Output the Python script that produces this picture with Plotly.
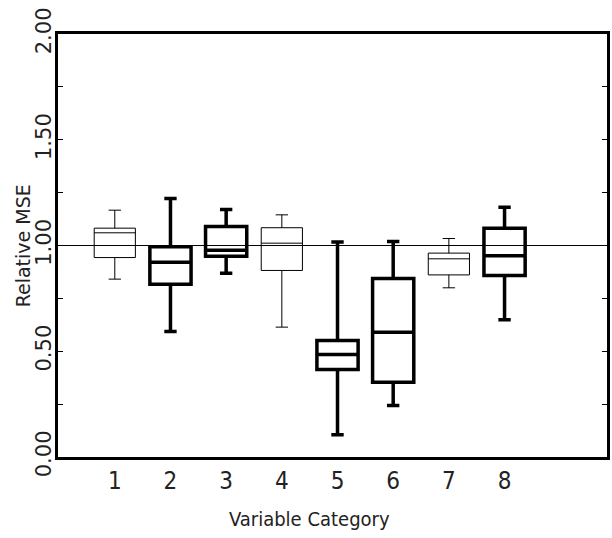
import plotly.graph_objects as go

categories = [1, 2, 3, 4, 5, 6, 7, 8]
lower = [0.841, 0.593, 0.869, 0.614, 0.105, 0.243, 0.800, 0.649]
q1 = [0.943, 0.817, 0.949, 0.882, 0.414, 0.354, 0.861, 0.858]
median = [1.060, 0.921, 0.978, 1.011, 0.485, 0.590, 0.937, 0.951]
q3 = [1.082, 0.994, 1.090, 1.084, 0.551, 0.844, 0.964, 1.082]
upper = [1.167, 1.222, 1.170, 1.145, 1.016, 1.019, 1.033, 1.181]
thick = [False, True, True, False, True, True, False, True]

y_tickvals = [0, 0.25, 0.5, 0.75, 1.0, 1.25, 1.5, 1.75, 2.0]
y_ticktext = ["0.00", "", "0.50", "", "1.00", "", "1.50", "", "2.00"]

NARROW = "Liberation Sans Narrow, DejaVu Sans Condensed, sans-serif"

fig = go.Figure()
for is_thick in (False, True):
    idx = [i for i, t in enumerate(thick) if t == is_thick]
    fig.add_trace(go.Box(
        x=[categories[i] for i in idx],
        q1=[q1[i] for i in idx],
        median=[median[i] for i in idx],
        q3=[q3[i] for i in idx],
        lowerfence=[lower[i] for i in idx],
        upperfence=[upper[i] for i in idx],
        line=dict(color="black", width=3.5 if is_thick else 1),
        fillcolor="rgba(0,0,0,0)",
        width=0.74,
        whiskerwidth=0.3,
        boxpoints=False,
        hoverinfo="skip",
        showlegend=False,
    ))

fig.add_shape(type="line", xref="paper", yref="y", x0=0, x1=1, y0=1.0, y1=1.0,
              line=dict(color="black", width=1), layer="below")

fig.add_annotation(x=4.5, xref="x", y=-0.147, yref="paper", text="Variable Category",
                   showarrow=False, yanchor="middle",
                   font=dict(family=NARROW, size=20, color="#222"))

fig.add_annotation(x=-0.064, xref="paper", y=0.5, yref="paper", text="Relative MSE",
                   showarrow=False, xanchor="center", yanchor="middle", textangle=-90,
                   font=dict(size=19, color="#222"))

fig.update_layout(
    width=612, height=538,
    margin=dict(l=58, r=2, t=34, b=81),
    plot_bgcolor="white", paper_bgcolor="white",
    boxmode="overlay",
    font=dict(family="DejaVu Sans, sans-serif", color="#222"),
    xaxis=dict(range=[-0.02, 9.84], tickvals=categories, ticktext=[str(c) for c in categories],
               ticks="", showgrid=False, zeroline=False, showline=True, mirror=True,
               linecolor="black", linewidth=3, ticklabelstandoff=0,
               tickfont=dict(family=NARROW, size=24, color="#222")),
    yaxis=dict(range=[0, 2], tickvals=y_tickvals, ticktext=y_ticktext, tickangle=-90,
               ticks="inside", ticklen=5, tickwidth=1, tickcolor="black",
               showgrid=False, zeroline=False, showline=True, mirror="ticks",
               linecolor="black", linewidth=3, ticklabelstandoff=-4,
               tickfont=dict(size=21, color="#222")),
)

fig.write_html("out.html", config={"displayModeBar": False},
               post_script="document.body.style.margin='0';")
